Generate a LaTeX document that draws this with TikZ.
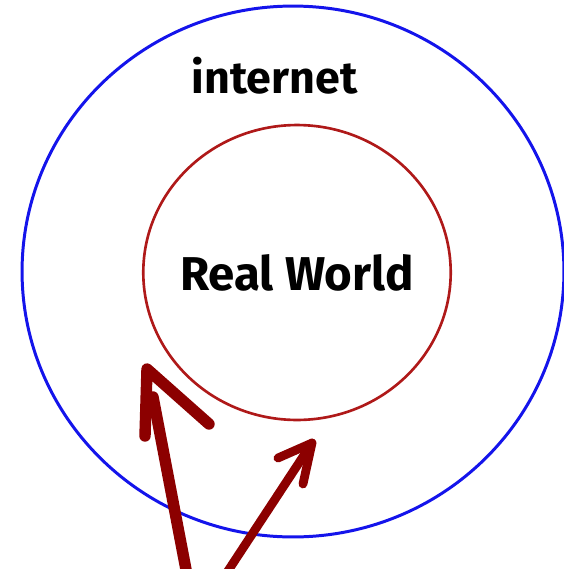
\documentclass[tikz,border=0pt]{standalone}
\usepackage{fontspec}
\setmainfont{Fira Sans}
\usetikzlibrary{shapes.geometric}

\definecolor{netblue}{RGB}{20,20,235}
\definecolor{worldred}{RGB}{175,25,25}
\definecolor{scrawlred}{RGB}{140,0,0}

\begin{document}
\begin{tikzpicture}[
  x=0.02cm, y=-0.02cm,
  ring/.style={
    draw,
    ellipse,
    inner sep=0pt,
    line width=1.7pt
  },
  tag/.style={
    font=\bfseries\fontsize{27}{31}\selectfont,
    inner sep=0pt
  },
  scrawl/.style={
    draw=scrawlred,
    line width=6.5pt,
    line cap=round,
    line join=round
  }
]

% Frame
\clip (0,0) rectangle (564,569);

% Rings
\node[ring, draw=netblue, minimum width=10.84cm, minimum height=10.62cm] (net) at (293,271.5) {};
\node[ring, draw=worldred, line width=1.5pt, minimum width=6.15cm, minimum height=5.9cm] (world) at (297,272.5) {};

% Labels
\node[tag, font=\bfseries\fontsize{25.5}{30}\selectfont] (netlabel) at (274.5,76) {internet};
\node[tag] (worldlabel) at (world.center) {Real World};

% Hand drawn arrows
\coordinate (tailA) at (188,580);
\coordinate (stemA) at (153,397);
\coordinate (tipA) at (147,369);
\coordinate (barbAl) at (145,436);
\coordinate (barbAr) at (209,424);

\coordinate (tailB) at (222,580);
\coordinate (tipB) at (312,443);
\coordinate (barbBl) at (278,458);
\coordinate (barbBr) at (303,484);

\draw[scrawl] (tailA) -- (stemA);
\draw[scrawl] (barbAl) -- (tipA) -- (barbAr);

\draw[scrawl, line width=5pt] (tailB) -- (tipB);
\draw[scrawl, line width=5pt] (barbBl) -- (tipB) -- (barbBr);

\end{tikzpicture}
\end{document}
